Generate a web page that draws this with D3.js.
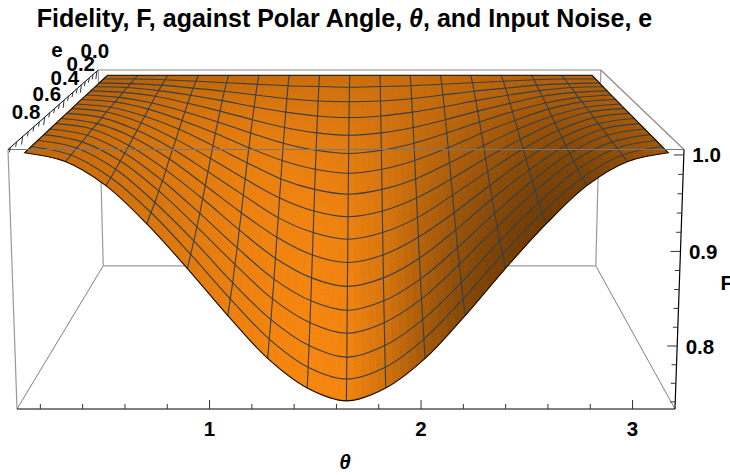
<!DOCTYPE html>
<html>
<head>
<meta charset="utf-8">
<style>
  body { margin: 0; background: #fff; }
  svg { display: block; }
  text { font-family: "Liberation Sans", Arial, sans-serif; font-weight: bold; fill: #000; }
</style>
</head>
<body>
<div id="vis"></div>
<script src="https://cdn.jsdelivr.net/npm/d3@7"></script>
<script>
// grid: one column per theta, one row per e
const thetaValues = [0.157, 0.344, 0.530, 0.717, 0.903, 1.090, 1.276, 1.463, 1.649, 1.836, 2.022, 2.209, 2.395, 2.582, 2.768, 2.955, 3.142];
const noiseValues = [0, 0.056, 0.113, 0.169, 0.225, 0.281, 0.338, 0.394, 0.45, 0.506, 0.563, 0.619, 0.675, 0.731, 0.788, 0.844, 0.9];
const fidelity = [
    [1.000, 1.000, 1.000, 1.000, 1.000, 1.000, 1.000, 1.000, 1.000, 1.000, 1.000, 1.000, 1.000, 1.000, 1.000, 1.000, 1.000],
    [1.000, 1.000, 0.999, 0.997, 0.995, 0.993, 0.991, 0.990, 0.989, 0.990, 0.991, 0.993, 0.995, 0.997, 0.999, 1.000, 1.000],
    [1.000, 0.999, 0.997, 0.993, 0.989, 0.984, 0.979, 0.976, 0.975, 0.976, 0.979, 0.984, 0.989, 0.993, 0.997, 0.999, 1.000],
    [1.000, 0.999, 0.995, 0.989, 0.982, 0.974, 0.967, 0.962, 0.960, 0.962, 0.967, 0.974, 0.982, 0.989, 0.995, 0.999, 1.000],
    [1.000, 0.998, 0.993, 0.984, 0.974, 0.963, 0.953, 0.946, 0.943, 0.946, 0.953, 0.963, 0.974, 0.984, 0.993, 0.998, 1.000],
    [1.000, 0.997, 0.990, 0.979, 0.966, 0.952, 0.939, 0.930, 0.926, 0.930, 0.939, 0.952, 0.966, 0.979, 0.990, 0.997, 1.000],
    [1.000, 0.997, 0.988, 0.974, 0.958, 0.940, 0.924, 0.913, 0.908, 0.913, 0.924, 0.940, 0.958, 0.974, 0.988, 0.997, 1.000],
    [1.000, 0.996, 0.985, 0.969, 0.949, 0.928, 0.908, 0.895, 0.889, 0.895, 0.908, 0.928, 0.949, 0.969, 0.985, 0.996, 1.000],
    [1.000, 0.996, 0.983, 0.963, 0.940, 0.915, 0.892, 0.876, 0.869, 0.876, 0.892, 0.915, 0.940, 0.963, 0.983, 0.996, 1.000],
    [1.000, 0.995, 0.980, 0.958, 0.931, 0.903, 0.876, 0.858, 0.850, 0.858, 0.876, 0.903, 0.931, 0.958, 0.980, 0.995, 1.000],
    [1.000, 0.994, 0.978, 0.953, 0.922, 0.890, 0.861, 0.840, 0.831, 0.840, 0.861, 0.890, 0.922, 0.953, 0.978, 0.994, 1.000],
    [1.000, 0.994, 0.975, 0.947, 0.914, 0.878, 0.845, 0.822, 0.812, 0.822, 0.845, 0.878, 0.914, 0.947, 0.975, 0.994, 1.000],
    [1.000, 0.993, 0.973, 0.942, 0.905, 0.866, 0.830, 0.805, 0.794, 0.805, 0.830, 0.866, 0.905, 0.942, 0.973, 0.993, 1.000],
    [1.000, 0.992, 0.971, 0.938, 0.898, 0.856, 0.817, 0.790, 0.778, 0.790, 0.817, 0.856, 0.898, 0.938, 0.971, 0.992, 1.000],
    [1.000, 0.992, 0.969, 0.933, 0.891, 0.845, 0.804, 0.775, 0.762, 0.775, 0.804, 0.845, 0.891, 0.933, 0.969, 0.992, 1.000],
    [1.000, 0.991, 0.967, 0.930, 0.885, 0.837, 0.793, 0.762, 0.749, 0.762, 0.793, 0.837, 0.885, 0.930, 0.967, 0.991, 1.000],
    [1.000, 0.991, 0.966, 0.926, 0.879, 0.829, 0.783, 0.751, 0.737, 0.751, 0.783, 0.829, 0.879, 0.926, 0.966, 0.991, 1.000]
];

// tick lists
const thetaMajor = [1, 2, 3];
const thetaMinor = [0.2, 0.4, 0.6, 0.8, 1.2, 1.4, 1.6, 1.8, 2.2, 2.4, 2.6, 2.8];
const noiseMajor = [0, 0.2, 0.4, 0.6, 0.8];
const noiseMinor = [0.05, 0.1, 0.15, 0.25, 0.3, 0.35, 0.45, 0.5, 0.55, 0.65, 0.7, 0.75, 0.85, 0.9];
const fidelityMajor = [0.8, 0.9, 1.0];
const fidelityMinor = [0.74, 0.76, 0.78, 0.82, 0.84, 0.86, 0.88, 0.92, 0.94, 0.96, 0.98];

const width = 730;
const height = 475;

const svg = d3.select('#vis')
    .append('svg')
    .attr('width', width)
    .attr('height', height);

// data -> unit box
const uScale = d3.scaleLinear().domain([0.092, 3.203]).range([0, 1]);
const vScale = d3.scaleLinear().domain([0.91875, -0.01875]).range([0, 1]);
const wScale = d3.scaleLinear().domain([0.7323, 1.0056]).range([0, 1]);

// perspective camera fitted to the box corners
function project(u, v, w) {
    const s = 1 + 0.345 * v + 0.0274 * (1 - w);
    return [676 * (u - 0.5) / s + 346 + 3.5 * v, (420.2 - 55.35 * v - 270.7 * w) / s];
}
const point = (i, j) => project(uScale(thetaValues[i]), vScale(noiseValues[j]), wScale(fidelity[j][i]));

const line = d3.line();
const smooth = d3.line().curve(d3.curveCatmullRom.alpha(0.5));

function edge(g, a, b, color, w) {
    g.append('path')
        .attr('d', line([project(...a), project(...b)]))
        .attr('fill', 'none')
        .attr('stroke', color)
        .attr('stroke-width', w);
}

// box edges behind the surface
const back = svg.append('g');
edge(back, [0, 1, 1], [1, 1, 1], '#8a8a8a', 1.2);
edge(back, [0, 1, 0], [1, 1, 0], '#999', 1.2);
edge(back, [0, 1, 0], [0, 1, 1], '#999', 1.2);
edge(back, [1, 1, 0], [1, 1, 1], '#999', 1.2);
edge(back, [0, 0, 0], [0, 1, 0], '#808080', 1);
edge(back, [1, 0, 0], [1, 1, 0], '#808080', 1);
edge(back, [1, 0, 1], [1, 1, 1], '#8a8a8a', 1.2);
edge(back, [0, 0, 0], [0, 0, 1], '#999', 1.2);

// shading from the grid normals, lower parts of the surface catch a bit more light
const light = [0.28, -0.4, 0.5];
const ambient = 0.2;
const lowBoost = 0.25;
const boxHeight = 0.4;
const shade = d3.interpolateRgb('#000000', '#ff8c12');
const nx = thetaValues.length;
const ny = noiseValues.length;

// soft limit so the bright area does not flatten out
const softLimit = b => b < 0.85 ? b : 0.85 + 0.15 * (1 - Math.exp(-(b - 0.85) / 0.15));

function brightness(i, j) {
    const i0 = Math.max(i - 1, 0), i1 = Math.min(i + 1, nx - 1);
    const j0 = Math.max(j - 1, 0), j1 = Math.min(j + 1, ny - 1);
    const dwdu = (wScale(fidelity[j][i1]) - wScale(fidelity[j][i0])) / (uScale(thetaValues[i1]) - uScale(thetaValues[i0]));
    const dwdv = (wScale(fidelity[j1][i]) - wScale(fidelity[j0][i])) / (vScale(noiseValues[j1]) - vScale(noiseValues[j0]));
    const n = [-dwdu * boxHeight, -dwdv * boxHeight, 1];
    const len = Math.hypot(...n);
    const dot = (n[0] * light[0] + n[1] * light[1] + n[2] * light[2]) / len;
    return softLimit(ambient + Math.max(0, dot) + lowBoost * (1 - wScale(fidelity[j][i])));
}
const bright = noiseValues.map((e, j) => thetaValues.map((t, i) => brightness(i, j)));

// bilinear helper for smooth shading inside each mesh cell
const mix = (a, b, c, d, s, t) => (a * (1 - s) + b * s) * (1 - t) + (c * (1 - s) + d * s) * t;

// surface outline, used for the clip and drawn last
const outline = d3.range(nx).map(i => point(i, 0));
const outlineRight = d3.range(ny).map(j => point(nx - 1, j));
const outlineFront = d3.range(nx - 1, -1, -1).map(i => point(i, ny - 1));
const outlineLeft = d3.range(ny - 1, -1, -1).map(j => point(0, j));
const outlinePath = line(outline) + line(outlineRight).replace('M', 'L') + smooth(outlineFront).replace('M', 'L') + line(outlineLeft).replace('M', 'L') + 'Z';

const defs = svg.append('defs');
defs.append('clipPath').attr('id', 'surface-clip').append('path').attr('d', outlinePath);
const under = defs.append('linearGradient').attr('id', 'under').attr('gradientUnits', 'userSpaceOnUse')
    .attr('x1', 22).attr('x2', 667).attr('y1', 0).attr('y2', 0);
under.append('stop').attr('offset', 0).attr('stop-color', '#c8660a');
under.append('stop').attr('offset', 0.5).attr('stop-color', '#e97c0e');
under.append('stop').attr('offset', 0.6).attr('stop-color', '#c4660a');
under.append('stop').attr('offset', 0.8).attr('stop-color', '#6c3904');
under.append('stop').attr('offset', 1).attr('stop-color', '#8a4a06');

svg.append('path').attr('d', outlinePath).attr('fill', 'url(#under)');

const surface = svg.append('g').attr('clip-path', 'url(#surface-clip)');
const steps = 5;
for (let j = 0; j < ny - 1; j++) {
    for (let i = 0; i < nx - 1; i++) {
        const p00 = point(i, j), p10 = point(i + 1, j), p01 = point(i, j + 1), p11 = point(i + 1, j + 1);
        const at = (s, t) => [mix(p00[0], p10[0], p01[0], p11[0], s, t), mix(p00[1], p10[1], p01[1], p11[1], s, t)];
        for (let a = 0; a < steps; a++) {
            for (let b = 0; b < steps; b++) {
                const s0 = a / steps, s1 = (a + 1) / steps, t0 = b / steps, t1 = (b + 1) / steps;
                const c = shade(mix(bright[j][i], bright[j][i + 1], bright[j + 1][i], bright[j + 1][i + 1], (s0 + s1) / 2, (t0 + t1) / 2));
                surface.append('path')
                    .attr('d', line([at(s0, t0), at(s1, t0), at(s1, t1), at(s0, t1)]) + 'Z')
                    .attr('fill', c)
                    .attr('stroke', c)
                    .attr('stroke-width', 0.6);
            }
        }
    }
}

// mesh
const mesh = svg.append('g')
    .attr('fill', 'none')
    .attr('stroke', '#383f46')
    .attr('stroke-width', 1.1);
d3.range(1, ny - 1).forEach(j => mesh.append('path').attr('d', smooth(d3.range(nx).map(i => point(i, j)))));
d3.range(1, nx - 1).forEach(i => mesh.append('path').attr('d', smooth(d3.range(ny).map(j => point(i, j)))));

svg.append('path')
    .attr('d', outlinePath)
    .attr('fill', 'none')
    .attr('stroke', '#140a02')
    .attr('stroke-width', 1.1);

// front box edges and axis lines
const front = svg.append('g');
edge(front, [0, 0, 1], [1, 0, 1], '#777', 1.2);
edge(front, [0, 0, 0], [1, 0, 0], '#000', 1.2);
edge(front, [1, 0, 0], [1, 0, 1], '#000', 1.2);
edge(front, [0, 0, 1], [0, 1, 1], '#000', 1);

// theta axis sits on the flat front edge, so a normal d3 axis works
const corner0 = project(0, 0, 0);
const corner1 = project(1, 0, 0);
const xAxisScale = d3.scaleLinear().domain(uScale.domain()).range([corner0[0], corner1[0]]);
const xMajor = svg.append('g')
    .attr('transform', `translate(0,${corner0[1]})`)
    .call(d3.axisBottom(xAxisScale).tickValues(thetaMajor).tickSize(-9).tickPadding(12).tickFormat(d3.format('d')));
const xMinor = svg.append('g')
    .attr('transform', `translate(0,${corner0[1]})`)
    .call(d3.axisBottom(xAxisScale).tickValues(thetaMinor).tickSize(-5).tickFormat(''));
[xMajor, xMinor].forEach(g => {
    g.select('.domain').remove();
    g.attr('font-family', null);
    g.selectAll('line').attr('stroke', '#333');
    g.selectAll('text').style('font-size', '20.5px');
});

// F ticks along the tilted right edge
const zTicks = svg.append('g').attr('stroke', '#333').attr('stroke-width', 1);
function zTick(f, len) {
    const p = project(1, 0, wScale(f));
    zTicks.append('line').attr('x1', p[0]).attr('x2', p[0] - len).attr('y1', p[1]).attr('y2', p[1]);
    return p;
}
fidelityMinor.forEach(f => zTick(f, 5));
fidelityMajor.forEach(f => {
    const p = zTick(f, 10);
    svg.append('text')
        .attr('x', p[0] + 8.5)
        .attr('y', p[1] + 7.5)
        .style('font-size', '20.5px')
        .text(d3.format('.1f')(f));
});

// e ticks along the top left edge
const eTicks = svg.append('g').attr('stroke', '#333').attr('stroke-width', 1);
function eTick(e, len) {
    const p = project(0, vScale(e), 1);
    eTicks.append('line').attr('x1', p[0]).attr('x2', p[0] - 1).attr('y1', p[1]).attr('y2', p[1] + len);
    return p;
}
noiseMinor.forEach(e => eTick(e, 5));
const eOffsetX = d3.scaleLinear().domain([0, 0.8]).range([-2, 3.5]);
const eOffsetY = d3.scaleLinear().domain([0, 0.8]).range([-13, -17.5]);
noiseMajor.forEach(e => {
    const p = eTick(e, 8);
    svg.append('text')
        .attr('x', p[0] + eOffsetX(e))
        .attr('y', p[1] + eOffsetY(e))
        .attr('text-anchor', 'middle')
        .style('font-size', '20.5px')
        .text(d3.format('.1f')(e));
});

// titles
const title = svg.append('text')
    .attr('x', 344.5)
    .attr('y', 27)
    .attr('text-anchor', 'middle')
    .style('font-size', '25px');
title.append('tspan').text('Fidelity, F, against Polar Angle, ');
title.append('tspan').style('font-style', 'italic').text('θ');
title.append('tspan').text(', and Input Noise, e');

svg.append('text').attr('x', 57).attr('y', 57).attr('text-anchor', 'middle').style('font-size', '20.5px').text('e');
svg.append('text').attr('x', 345).attr('y', 469).attr('text-anchor', 'middle').style('font-size', '20.5px').style('font-style', 'italic').text('θ');
svg.append('text').attr('x', 720.5).attr('y', 289.5).style('font-size', '20.5px').text('F');
</script>
</body>
</html>
